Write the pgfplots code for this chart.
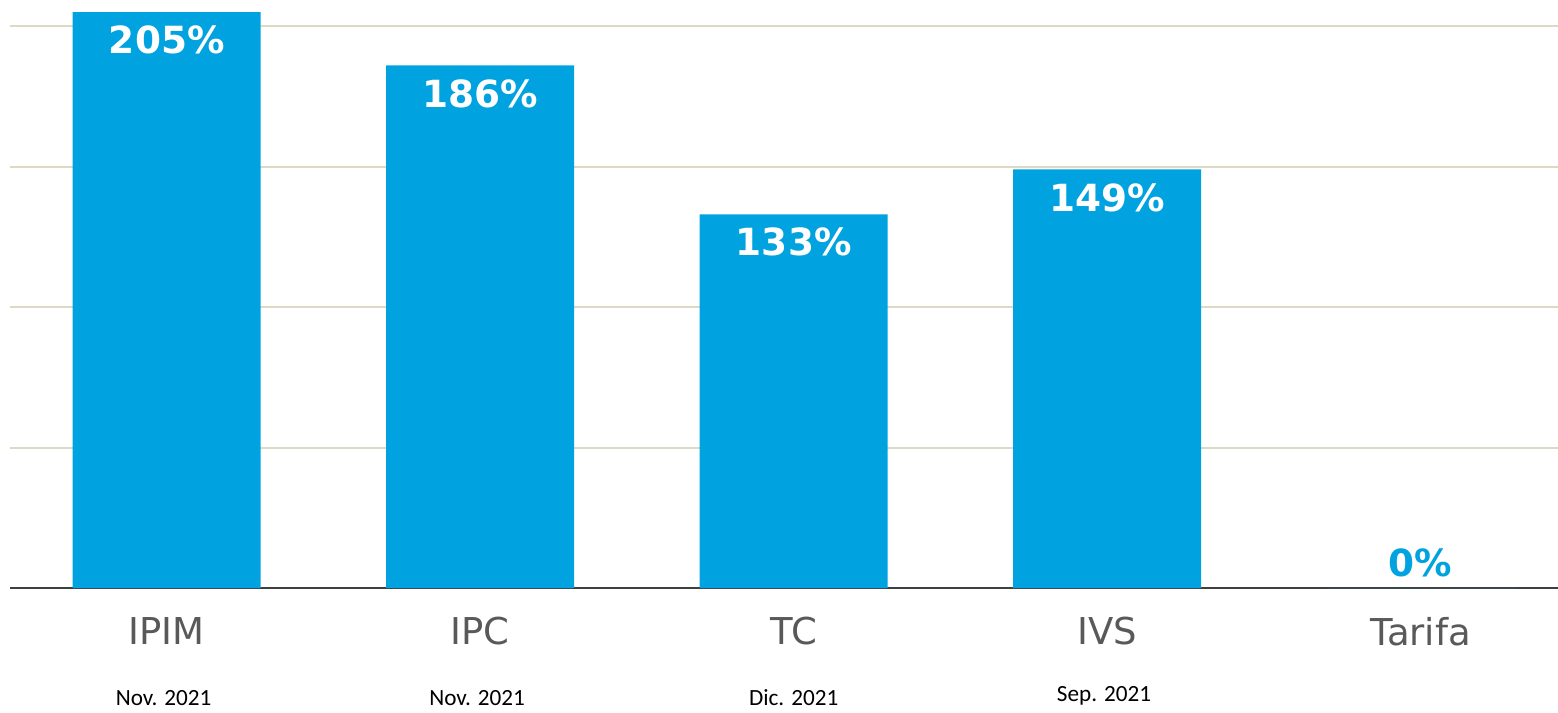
\documentclass[border=0pt]{standalone}
\usepackage{pgfplots}
\pgfplotsset{compat=1.18}
\usepackage{fontspec}
\setmainfont{DejaVu Sans}
\newfontfamily\datefont{Carlito}
\definecolor{barblue}{RGB}{0,163,224}
\definecolor{gridc}{RGB}{221,217,195}
\definecolor{axisc}{RGB}{64,64,64}
\definecolor{labgray}{RGB}{89,89,89}
\begin{document}
\begin{tikzpicture}
\path[use as bounding box] (-5bp,-62.5bp) rectangle (774bp,294bp);
\begin{axis}[
  at={(0,0)}, anchor=south west,
  scale only axis,
  width=774bp, height=294bp,
  xmin=-0.5, xmax=4.438,
  ymin=0, ymax=209.3,
  axis x line*=bottom,
  axis y line*=left,
  x axis line style={draw=axisc, line width=1bp, -},
  y axis line style={draw=none},
  xtick={0,1,2,3,4},
  xticklabels={IPIM,IPC,TC,IVS,Tarifa},
  xtick style={draw=none},
  xticklabel style={font=\fontsize{18.5bp}{20bp}\selectfont, text=labgray, yshift=-11bp},
  ytick={50,100,150,200},
  yticklabels={},
  ytick style={draw=none},
  ymajorgrids,
  grid style={draw=gridc, line width=1bp},
  clip=false,
  /pgf/number format/assume math mode=true,
]
\addplot[ybar, bar width=94bp, bar shift=0pt, fill=barblue, draw=none,
  nodes near coords={\pgfmathprintnumber[assume math mode=true]{\pgfplotspointmeta}\%},
  point meta=y,
  every node near coord/.append style={anchor=center, yshift=-14bp, text=white,
    font=\bfseries\fontsize{18.7bp}{20bp}\selectfont}]
  coordinates {(0,205) (1,186) (2,133) (3,149)};
\addplot[ybar, bar width=94bp, bar shift=0pt, fill=barblue, draw=none,
  nodes near coords={\pgfmathprintnumber[assume math mode=true]{\pgfplotspointmeta}\%},
  point meta=y,
  every node near coord/.append style={anchor=center, yshift=12.5bp, text=barblue,
    font=\bfseries\fontsize{18.7bp}{20bp}\selectfont}]
  coordinates {(4,0)};
\node[font=\datefont\fontsize{11.6bp}{13bp}\selectfont] at (axis cs:-0.01,0) [yshift=-55bp] {Nov. 2021};
\node[font=\datefont\fontsize{11.6bp}{13bp}\selectfont] at (axis cs:0.99,0) [yshift=-55bp] {Nov. 2021};
\node[font=\datefont\fontsize{11.6bp}{13bp}\selectfont] at (axis cs:2.0,0) [yshift=-55bp] {Dic. 2021};
\node[font=\datefont\fontsize{11.6bp}{13bp}\selectfont] at (axis cs:2.99,0) [yshift=-54bp] {Sep. 2021};
\end{axis}
\end{tikzpicture}
\end{document}
